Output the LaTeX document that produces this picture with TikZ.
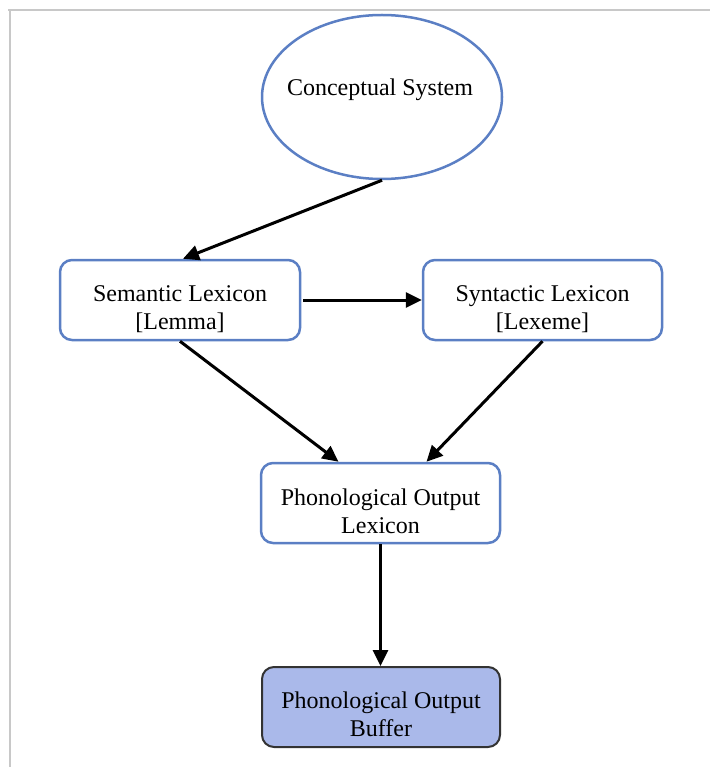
\documentclass[tikz,border=0pt]{standalone}
\usepackage{fontspec}
\setmainfont{Liberation Serif}
\usetikzlibrary{arrows.meta,shapes.geometric}
\definecolor{bordblue}{HTML}{5B7FC4}
\definecolor{buffill}{HTML}{AAB9EA}
\definecolor{framegray}{HTML}{C8C8C8}
\tikzset{
  lbl/.style={font=\fontsize{24}{28}\selectfont, align=center, inner sep=0pt},
  blbox/.style={draw=bordblue, line width=2.5pt, rounded corners=12pt, minimum width=240pt, minimum height=80pt, inner sep=0pt},
  bufbox/.style={draw=black!80, fill=buffill, line width=2pt, rounded corners=12pt, minimum width=238pt, minimum height=80pt, inner sep=0pt},
  arr/.style={draw=black, line width=3pt, -{Triangle[length=16pt,width=15pt]}},
}
\begin{document}
\begin{tikzpicture}[x=1pt,y=-1pt]
\useasboundingbox (0,0) rectangle (710,767);
\draw[framegray, line width=1.5pt] (8,10) -- (710,10) (10,10) -- (10,767);
\node[ellipse, draw=bordblue, line width=2.5pt, minimum width=240pt, minimum height=164pt, inner sep=0pt] (ell) at (382,97) {};
\node[lbl] (ellt) at (380,90) {Conceptual System};
\node[blbox] (sem) at (180,300) {};
\node[lbl] (semt) at (180,309) {Semantic Lexicon\\{[Lemma]}};
\node[blbox, minimum width=239pt] (syn) at (542.5,300) {};
\node[lbl] (synt) at (542.5,309) {Syntactic Lexicon\\{[Lexeme]}};
\node[blbox, minimum width=239pt] (pol) at (380.5,503) {};
\node[lbl] (polt) at (380.5,511) {Phonological Output\\Lexicon};
\node[bufbox] (buf) at (381,707) {};
\node[lbl] (buft) at (381,714) {Phonological Output\\Buffer};
\draw[arr] (ell.south) -- ([xshift=3pt]sem.north);
\draw[arr] ([xshift=2pt]sem.east) -- (syn.west);
\draw[arr] (sem.south) -- ([xshift=-42pt]pol.north);
\draw[arr] (syn.south) -- ([xshift=46pt]pol.north);
\draw[arr] (pol.south) -- (pol.south |- buf.north);
\end{tikzpicture}
\end{document}
